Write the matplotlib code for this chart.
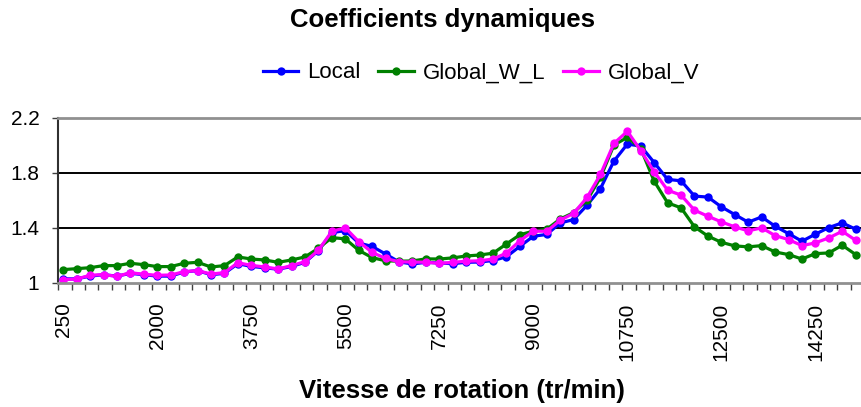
import matplotlib
matplotlib.use("Agg")
import matplotlib.pyplot as plt
import numpy as np

plt.rcParams["font.family"] = ["Liberation Sans", "DejaVu Sans"]

# rotation speeds (tr/min), one category every 250
speeds = list(range(250, 15001, 250))

local = [1.03, 1.03, 1.05, 1.06, 1.05, 1.07, 1.06, 1.05, 1.05, 1.08,
         1.09, 1.06, 1.07, 1.14, 1.12, 1.11, 1.10, 1.12, 1.15, 1.235,
         1.365, 1.38, 1.29, 1.265, 1.21, 1.153, 1.138, 1.15, 1.145, 1.14,
         1.15, 1.152, 1.163, 1.19, 1.266, 1.339, 1.352, 1.435, 1.46, 1.564,
         1.685, 1.884, 2.007, 1.993, 1.873, 1.751, 1.741, 1.63, 1.623, 1.552,
         1.496, 1.441, 1.479, 1.412, 1.358, 1.303, 1.354, 1.402, 1.436, 1.39]

global_wl = [1.097, 1.104, 1.111, 1.126, 1.126, 1.143, 1.133, 1.119, 1.119, 1.143,
             1.15, 1.116, 1.126, 1.189, 1.174, 1.167, 1.15, 1.167, 1.189, 1.252,
             1.329, 1.32, 1.237, 1.184, 1.161, 1.158, 1.16, 1.175, 1.174, 1.182,
             1.196, 1.203, 1.216, 1.283, 1.35, 1.376, 1.39, 1.464, 1.51, 1.6,
             1.765, 2.0, 2.056, 1.975, 1.738, 1.581, 1.545, 1.407, 1.34, 1.295,
             1.269, 1.262, 1.271, 1.225, 1.206, 1.174, 1.213, 1.218, 1.274, 1.206]

global_v = [1.024, 1.029, 1.056, 1.061, 1.048, 1.075, 1.063, 1.056, 1.058, 1.082,
            1.09, 1.065, 1.075, 1.147, 1.128, 1.116, 1.102, 1.126, 1.155, 1.237,
            1.375, 1.4, 1.3, 1.222, 1.178, 1.154, 1.152, 1.151, 1.142, 1.15,
            1.158, 1.161, 1.174, 1.217, 1.306, 1.376, 1.375, 1.455, 1.505, 1.62,
            1.787, 2.012, 2.1, 1.96, 1.806, 1.673, 1.637, 1.528, 1.484, 1.443,
            1.407, 1.378, 1.4, 1.344, 1.315, 1.271, 1.291, 1.327, 1.375, 1.31]

series = [("Local", local, "#0000FF"),
          ("Global_W_L", global_wl, "#008000"),
          ("Global_V", global_v, "#FF00FF")]

W, H = 861, 407
fig = plt.figure(figsize=(W / 100, H / 100), dpi=100)
ax = fig.add_axes([58 / W, 1 - 283 / H, (864 - 58) / W, (283 - 117.5) / H])

x = np.arange(len(speeds))
for name, vals, col in series:
    ax.plot(x, vals, color=col, lw=2.3, marker="o", ms=6,
            markeredgewidth=0, label=name)

ax.set_xlim(-0.39, 59.44)
ax.set_ylim(1, 2.2)

# horizontal grid
for y in [1.4, 1.8]:
    ax.axhline(y, color="black", lw=1.4, zorder=0)

ax.set_yticks([1, 1.4, 1.8, 2.2])
ax.set_yticklabels(["1", "1.4", "1.8", "2.2"])
ax.tick_params(axis="y", direction="out", length=4.5, width=1,
               color="#404040", labelsize=15, pad=9)

# labels every 7 categories, tick marks between every category
ax.set_xticks(x[::7])
ax.set_xticklabels([str(s) for s in speeds[::7]], rotation=90, va="top")
ax.set_xticks(np.arange(len(speeds) + 1) - 0.38, minor=True)
ax.tick_params(axis="x", which="major", length=0, labelsize=15, pad=14)
ax.tick_params(axis="x", which="minor", direction="out", length=5,
               width=1, color="#404040")

for side in ["top", "bottom"]:
    ax.spines[side].set_color("#909090")
    ax.spines[side].set_linewidth(2)
ax.spines["left"].set_color("#303030")
ax.spines["left"].set_linewidth(1.5)
ax.spines["right"].set_visible(False)

fig.text(442 / W, 1 - 20 / H, "Coefficients dynamiques", ha="center",
         va="center", fontsize=18.5, fontweight="bold")
fig.text(462 / W, 1 - 391 / H, "Vitesse de rotation (tr/min)", ha="center",
         va="center", fontsize=18.5, fontweight="bold")

fig.legend(loc="center", bbox_to_anchor=(481 / W, 1 - 73 / H), ncol=3,
           frameon=False, fontsize=16, handlelength=1.6,
           handletextpad=0.4, columnspacing=0.8, borderpad=0)

fig.savefig("out.png", dpi=100)
